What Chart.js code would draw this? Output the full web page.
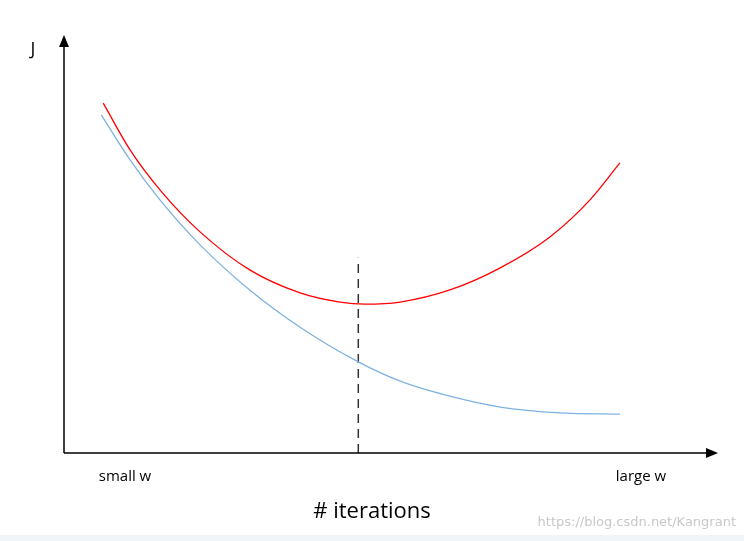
<!DOCTYPE html>
<html>
<head>
<meta charset="utf-8">
<script src="https://cdn.jsdelivr.net/npm/chart.js@4"></script>
<style>
  html, body { margin: 0; padding: 0; background: #fff; }
  #wrap { width: 744px; height: 541px; position: relative; }
  #strip { position: absolute; left: 0; top: 535px; width: 744px; height: 6px; background: #f0f5fa; }
</style>
</head>
<body>
<div id="wrap">
  <canvas id="myChart" width="744" height="541"></canvas>
  <div id="strip"></div>
</div>
<script>
// curva de validacion (roja) y de entrenamiento (azul)
const redX = [6.0, 10.1, 14.7, 20.8, 28.4, 36.1, 42.2, 46.0, 51.4, 59.0, 66.7, 74.3, 80.4, 85.0];
const redY = [83.7, 72.5, 62.9, 52.9, 43.8, 38.3, 36.1, 35.6, 36.1, 39.0, 44.3, 51.7, 60.5, 69.4];
const blueX = [5.7, 10.1, 14.7, 20.8, 28.4, 36.1, 45.0, 51.4, 59.0, 66.7, 75.8, 85.0];
const blueY = [80.9, 70.1, 60.5, 49.8, 39.0, 30.1, 21.8, 17.2, 13.6, 11.0, 9.6, 9.3];
const stopX = [45.0, 45.0];
const stopY = [0, 46.7];

const toPts = (xs, ys) => xs.map((x, i) => ({ x: x, y: ys[i] }));

// dibuja ejes con flechas y los textos
const axesPlugin = {
  id: 'axesPlugin',
  afterDraw(chart) {
    const c = chart.ctx, a = chart.chartArea;
    c.save();
    c.strokeStyle = '#000'; c.fillStyle = '#000'; c.lineWidth = 1.5;
    c.beginPath();
    c.moveTo(a.left, a.bottom); c.lineTo(a.left, a.top + 8);
    c.moveTo(a.left, a.bottom); c.lineTo(a.right - 8, a.bottom);
    c.stroke();
    c.beginPath();
    c.moveTo(a.left, a.top); c.lineTo(a.left - 5, a.top + 12); c.lineTo(a.left + 5, a.top + 12); c.closePath();
    c.fill();
    c.beginPath();
    c.moveTo(a.right, a.bottom); c.lineTo(a.right - 12, a.bottom - 5); c.lineTo(a.right - 12, a.bottom + 5); c.closePath();
    c.fill();
    c.textAlign = 'center'; c.textBaseline = 'middle';
    c.font = '18px "Open Sans", sans-serif';
    c.fillText('J', 33, 50);
    c.font = '15px "Open Sans", sans-serif';
    c.fillText('small w', 125, 477);
    c.fillText('large w', 641, 477);
    c.font = '22px "Open Sans", sans-serif';
    c.fillText('# iterations', 372, 512);
    c.font = '13px "DejaVu Sans", sans-serif';
    c.fillStyle = '#c8c8c8'; c.textAlign = 'right';
    c.fillText('https://blog.csdn.net/Kangrant', 736, 523);
    c.restore();
  }
};

new Chart(document.getElementById('myChart').getContext('2d'), {
  type: 'scatter',
  data: {
    datasets: [
      { data: toPts(redX, redY), showLine: true, borderColor: '#ff0000', borderWidth: 1.3, pointRadius: 0, cubicInterpolationMode: 'monotone' },
      { data: toPts(blueX, blueY), showLine: true, borderColor: '#7fb2e0', borderWidth: 1.3, pointRadius: 0, cubicInterpolationMode: 'monotone' },
      { data: toPts(stopX, stopY), showLine: true, borderColor: '#333', borderWidth: 1.5, borderDash: [9, 6], pointRadius: 0 }
    ]
  },
  options: {
    responsive: false,
    animation: false,
    layout: { padding: { left: 64, right: 26, top: 35, bottom: 88 } },
    plugins: { legend: { display: false }, tooltip: { enabled: false } },
    scales: {
      x: { type: 'linear', min: 0, max: 100, display: false },
      y: { type: 'linear', min: 0, max: 100, display: false }
    }
  },
  plugins: [axesPlugin]
});
</script>
</body>
</html>
